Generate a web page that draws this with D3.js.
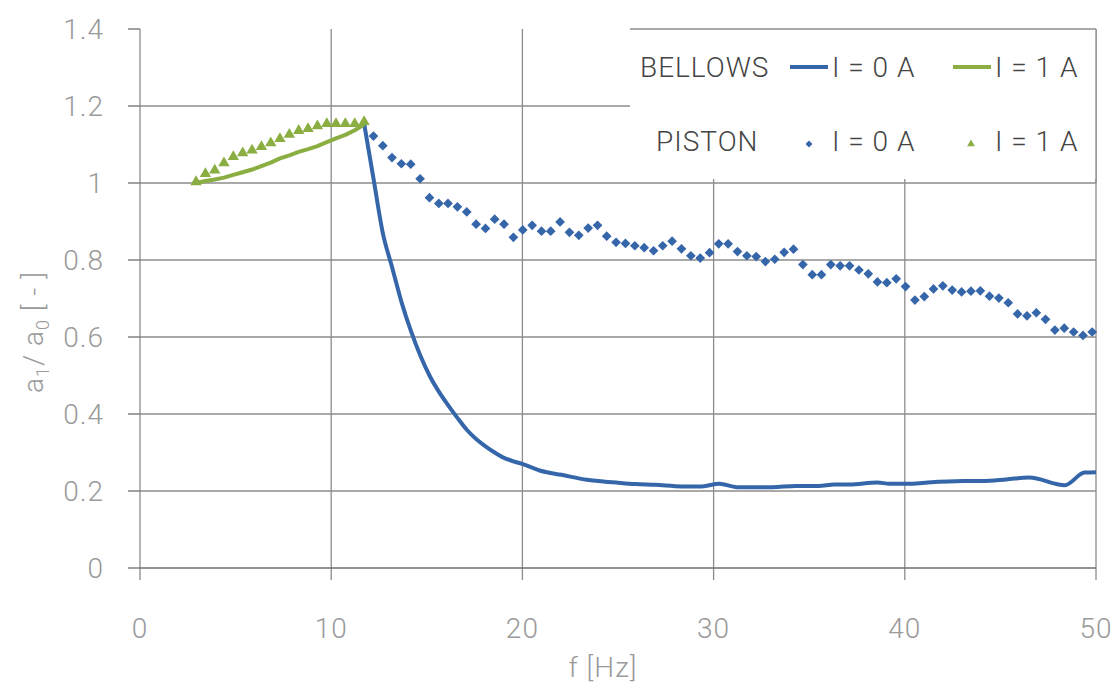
<!DOCTYPE html>
<html><head><meta charset="utf-8">
<script src="https://cdn.jsdelivr.net/npm/d3@7"></script>
<style>
body{margin:0;background:#fff}
text{font-family:Roboto,'Liberation Sans',sans-serif;font-weight:300}
</style>
</head><body>
<svg id="c" width="1115" height="684"></svg>
<script>
// ---- data ----
const xTicks = [0, 10, 20, 30, 40, 50];
const yTicks = [0, 0.2, 0.4, 0.6, 0.8, 1, 1.2, 1.4];
const yTickLabels = ["0", "0.2", "0.4", "0.6", "0.8", "1", "1.2", "1.4"];

// BELLOWS, I = 1 A (green line)
const bellowsFreq1 = [2.93,3.42,3.91,4.39,4.88,5.37,5.86,6.35,6.84,7.32,7.81,8.30,8.79,9.28,9.77,10.25,10.74,11.23,11.72];
const bellows1 = [1.000,1.005,1.009,1.014,1.021,1.028,1.035,1.044,1.053,1.064,1.072,1.081,1.088,1.096,1.106,1.116,1.125,1.137,1.152];

// BELLOWS, I = 0 A (blue line)
const bellowsFreq0 = [11.72,12.21,12.70,13.18,13.67,14.16,14.65,15.14,15.63,16.11,16.60,17.09,17.58,18.07,18.55,19.04,19.53,20.02,21.00,22.04,23.37,24.90,25.90,26.94,28.37,29.39,30.30,31.22,33.06,34.29,35.50,36.30,37.10,38.57,39.20,40.40,41.20,43.06,44.06,45.30,46.50,48.37,49.40,50.00];
const bellows0 = [1.155,1.012,0.870,0.782,0.692,0.617,0.553,0.500,0.458,0.423,0.390,0.359,0.335,0.316,0.300,0.286,0.277,0.270,0.252,0.242,0.229,0.222,0.218,0.216,0.212,0.212,0.219,0.210,0.210,0.213,0.213,0.217,0.217,0.222,0.219,0.219,0.222,0.226,0.226,0.230,0.235,0.215,0.248,0.249];

// PISTON, I = 1 A (green triangles)
const pistonFreq1 = [2.93,3.42,3.91,4.39,4.88,5.37,5.86,6.35,6.84,7.32,7.81,8.30,8.79,9.28,9.77,10.25,10.74,11.23,11.72];
const piston1 = [1.003,1.024,1.033,1.052,1.068,1.078,1.085,1.094,1.104,1.115,1.126,1.136,1.141,1.148,1.154,1.154,1.154,1.154,1.159];

// PISTON, I = 0 A (blue diamonds)
const pistonFreq0 = [12.21,12.70,13.18,13.67,14.16,14.65,15.14,15.63,16.11,16.60,17.09,17.58,18.07,18.55,19.04,19.53,20.02,20.51,21.00,21.48,21.97,22.46,22.95,23.44,23.93,24.41,
 24.90,25.39,25.88,26.37,26.86,27.34,27.83,28.32,28.81,29.30,29.79,30.27,30.76,31.25,31.74,32.23,32.71,33.20,33.69,34.18,34.67,35.16,35.64,36.13,36.62,37.11,
 37.60,38.09,38.57,39.06,39.55,40.04,40.53,41.02,41.50,41.99,42.48,42.97,43.46,43.95,44.43,44.92,45.41,45.90,46.39,46.88,47.36,47.85,48.34,48.83,49.32,49.80];
const piston0 = [1.122,1.097,1.066,1.050,1.049,1.011,0.962,0.947,0.947,0.938,0.925,0.893,0.882,0.906,0.893,0.859,0.878,0.890,0.875,0.875,0.899,0.872,0.864,0.883,0.890,0.862,
 0.846,0.843,0.837,0.832,0.824,0.837,0.849,0.829,0.811,0.805,0.819,0.842,0.842,0.822,0.811,0.809,0.796,0.802,0.820,0.828,0.788,0.762,0.762,0.788,0.785,0.785,
 0.774,0.764,0.743,0.741,0.751,0.731,0.696,0.705,0.725,0.733,0.722,0.717,0.719,0.720,0.706,0.701,0.689,0.660,0.655,0.663,0.646,0.618,0.623,0.613,0.604,0.613];

// ---- styles ----
const BLUE = "#3566a9", GREEN = "#8aae41";
const GRID = "#8c8c8c", TICKTXT = "#9a9a9a", LEGTXT = "#444";

const svg = d3.select("#c");
const x = d3.scaleLinear().domain([0, 50]).range([140, 1096]);
const y = d3.scaleLinear().domain([0, 1.4]).range([568, 29]);

// grid
const g = svg.append("g");
g.selectAll(".hg").data(yTicks.filter(v => v > 0 && v < 1.4)).join("line")
  .attr("x1", x(0)).attr("x2", x(50)).attr("y1", d => y(d)).attr("y2", d => y(d))
  .attr("stroke", GRID).attr("stroke-width", 1.3);
g.selectAll(".vg").data(xTicks).join("line")
  .attr("x1", d => x(d)).attr("x2", d => x(d)).attr("y1", y(1.4)).attr("y2", y(0) + 12)
  .attr("stroke", GRID).attr("stroke-width", 1.3);
g.append("line").attr("x1", x(0)).attr("x2", x(50)).attr("y1", y(0)).attr("y2", y(0))
  .attr("stroke", "#6e6e6e").attr("stroke-width", 1.5);
// y ticks
g.selectAll(".yt").data(yTicks).join("line")
  .attr("x1", x(0) - 12).attr("x2", x(0)).attr("y1", d => y(d)).attr("y2", d => y(d))
  .attr("stroke", "#6e6e6e").attr("stroke-width", 1.3);

// legend background
svg.append("rect").attr("x", 630).attr("y", y(1.4)).attr("width", x(50) - 630).attr("height", 150)
  .attr("fill", "#fff");
svg.append("line").attr("x1", 630).attr("x2", x(50)).attr("y1", y(1.4)).attr("y2", y(1.4))
  .attr("stroke", GRID).attr("stroke-width", 1.3);
svg.append("line").attr("x1", x(50)).attr("x2", x(50)).attr("y1", y(1.4)).attr("y2", y(1.0))
  .attr("stroke", GRID).attr("stroke-width", 1.3);

// tick labels
svg.selectAll(".yl").data(yTicks).join("text")
  .attr("x", 104).attr("y", d => y(d) + 10).attr("text-anchor", "end")
  .attr("font-size", 28).attr("fill", TICKTXT).attr("letter-spacing", 1)
  .text((d, i) => yTickLabels[i]);
svg.selectAll(".xl").data(xTicks).join("text")
  .attr("x", d => x(d)).attr("y", 638).attr("text-anchor", "middle")
  .attr("font-size", 28).attr("fill", TICKTXT).attr("letter-spacing", 1)
  .text(d => d);

// axis titles
svg.append("text").attr("x", 603).attr("y", 677).attr("text-anchor", "middle")
  .attr("font-size", 28).attr("fill", TICKTXT).attr("letter-spacing", 1).text("f [Hz]");
const yt = svg.append("text").attr("transform", "translate(43,332) rotate(-90)")
  .attr("text-anchor", "middle").attr("font-size", 28).attr("fill", TICKTXT).attr("letter-spacing", 1);
yt.append("tspan").text("a");
yt.append("tspan").attr("font-size", 18).attr("dy", 6).text("1");
yt.append("tspan").attr("dy", -6).text("/ a");
yt.append("tspan").attr("font-size", 18).attr("dy", 6).text("0");
yt.append("tspan").attr("dy", -6).text(" [ - ]");

// series
const lineSmooth = d3.line().x(d => x(d[0])).y(d => y(d[1])).curve(d3.curveMonotoneX);
const line = d3.line().x(d => x(d[0])).y(d => y(d[1]));
svg.append("path").datum(d3.zip(bellowsFreq0, bellows0)).attr("d", lineSmooth)
  .attr("fill", "none").attr("stroke", BLUE).attr("stroke-width", 4).attr("stroke-linejoin", "round");
svg.append("path").datum(d3.zip(bellowsFreq1, bellows1)).attr("d", line)
  .attr("fill", "none").attr("stroke", GREEN).attr("stroke-width", 4).attr("stroke-linejoin", "round");

const diamond = d3.symbol().type(d3.symbolDiamond2).size(60);
svg.selectAll(".dm").data(d3.zip(pistonFreq0, piston0)).join("path")
  .attr("d", diamond).attr("transform", d => `translate(${x(d[0])},${y(d[1])})`)
  .attr("fill", BLUE);
const tri = d3.symbol().type(d3.symbolTriangle).size(56);
svg.selectAll(".tr").data(d3.zip(pistonFreq1, piston1)).join("path")
  .attr("d", tri).attr("transform", d => `translate(${x(d[0])},${y(d[1])})`)
  .attr("fill", GREEN);

// legend
const L = svg.append("g");
const ltxt = (tx, ty, s) => L.append("text").attr("x", tx).attr("y", ty)
  .attr("font-size", 28).attr("fill", LEGTXT).attr("letter-spacing", 1).text(s);
ltxt(640, 77, "BELLOWS");
L.append("line").attr("x1", 790).attr("x2", 828).attr("y1", 67).attr("y2", 67)
  .attr("stroke", BLUE).attr("stroke-width", 4);
ltxt(832, 77, "I = 0 A");
L.append("line").attr("x1", 953).attr("x2", 991).attr("y1", 67).attr("y2", 67)
  .attr("stroke", GREEN).attr("stroke-width", 4);
ltxt(995, 77, "I = 1 A");
ltxt(656, 151, "PISTON");
L.append("path").attr("d", d3.symbol().type(d3.symbolDiamond2).size(30))
  .attr("transform", "translate(809,144)").attr("fill", BLUE);
ltxt(832, 151, "I = 0 A");
L.append("path").attr("d", d3.symbol().type(d3.symbolTriangle).size(26))
  .attr("transform", "translate(971,144)").attr("fill", GREEN);
ltxt(995, 151, "I = 1 A");
</script>
</body></html>
